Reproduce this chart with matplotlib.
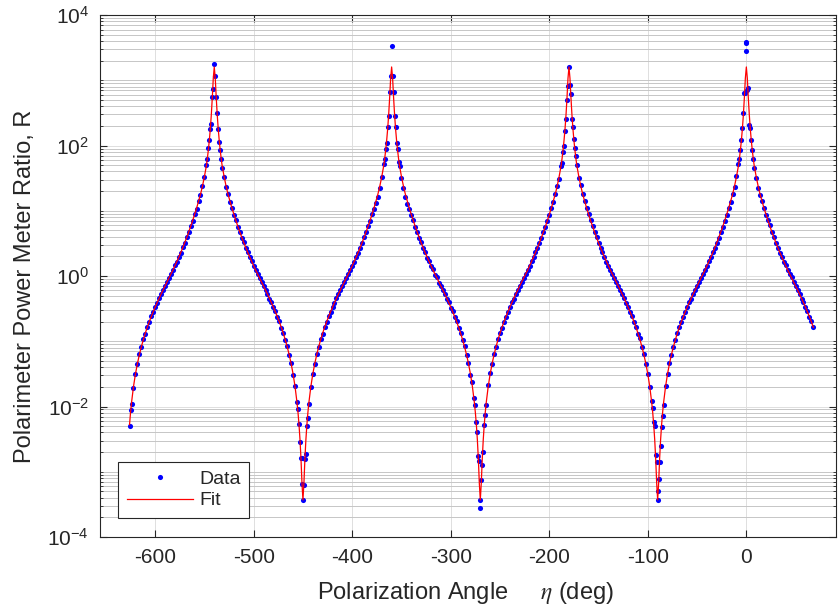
import numpy as np
import matplotlib
matplotlib.use("Agg")
import matplotlib.pyplot as plt
from matplotlib.ticker import FixedLocator, LogLocator, LogFormatterSciNotation, NullFormatter

plt.rcParams.update({
    'font.family': ['Liberation Sans', 'DejaVu Sans'],
    'mathtext.fontset': 'stix',
    'axes.unicode_minus': False,
    'text.color': '#262626',
    'axes.labelcolor': '#262626',
    'xtick.color': '#262626',
    'ytick.color': '#262626',
})

# polarizer angle eta (deg), one list per half-period
angle_1 = [-626, -625, -624, -622, -620, -618, -616, -614, -612, -610, -608, -606,
           -604, -602, -600, -598, -596, -594, -592, -590, -588, -586, -584, -582,
           -580, -578, -576, -574, -572, -570, -568, -566, -564, -562, -560, -558,
           -556, -554, -552, -550, -548, -547, -546, -545, -544, -543, -542, -541, -540]
angle_2 = [-539, -538, -537, -536, -535, -534, -533, -532, -530, -528, -526, -524,
           -522, -520, -518, -516, -514, -512, -510, -508, -506, -504, -502, -500,
           -498, -496, -494, -492, -490, -488, -486, -484, -482, -480, -478, -476,
           -474, -472, -470, -468, -466, -464, -462, -460, -458, -456, -455, -454,
           -453, -452, -451, -450]
angle_3 = [-449, -448, -447, -446, -445, -444, -442, -440, -438, -436, -434, -432,
           -430, -428, -426, -424, -422, -420, -418, -416, -414, -412, -410, -408,
           -406, -404, -402, -400, -398, -396, -394, -392, -390, -388, -386, -384,
           -382, -380, -378, -376, -374, -372, -370, -368, -367, -366, -365, -364,
           -363, -362, -361, -360]
angle_4 = [-359, -358, -357, -356, -355, -354, -353, -352, -350, -348, -346, -344,
           -342, -340, -338, -336, -334, -332, -330, -328, -326, -324, -322, -320,
           -318, -316, -314, -312, -310, -308, -306, -304, -302, -300, -298, -296,
           -294, -292, -290, -288, -286, -284, -282, -280, -278, -276, -275, -274,
           -273, -272, -271, -270]
angle_5 = [-269, -268, -267, -266, -265, -264, -262, -260, -258, -256, -254, -252,
           -250, -248, -246, -244, -242, -240, -238, -236, -234, -232, -230, -228,
           -226, -224, -222, -220, -218, -216, -214, -212, -210, -208, -206, -204,
           -202, -200, -198, -196, -194, -192, -190, -188, -187, -186, -185, -184,
           -183, -182, -181, -180]
angle_6 = [-179, -178, -177, -176, -175, -174, -173, -172, -170, -168, -166, -164,
           -162, -160, -158, -156, -154, -152, -150, -148, -146, -144, -142, -140,
           -138, -136, -134, -132, -130, -128, -126, -124, -122, -120, -118, -116,
           -114, -112, -110, -108, -106, -104, -102, -100, -98, -96, -95, -94,
           -93, -92, -91, -90]
angle_7 = [-89, -88, -87, -86, -85, -84, -82, -80, -78, -76, -74, -72,
           -70, -68, -66, -64, -62, -60, -58, -56, -54, -52, -50, -48,
           -46, -44, -42, -40, -38, -36, -34, -32, -30, -28, -26, -24,
           -22, -20, -18, -16, -14, -12, -10, -8, -7, -6, -5, -4,
           -3, -2, -1, 0]
angle_8 = [1, 2, 3, 4, 5, 6, 7, 8, 10, 12, 14, 16, 18, 20, 22, 24, 26, 28, 30,
           32, 34, 36, 38, 40, 42, 44, 46, 48, 50, 52, 54, 56, 58, 60, 62, 64, 66, 68]

# measured power meter ratio R
data_1 = [0.0050, 0.0087, 0.0108, 0.0195, 0.0310, 0.0448, 0.0640, 0.0815, 0.108, 0.131,
          0.166, 0.196, 0.241, 0.280, 0.338, 0.386, 0.460, 0.522, 0.617, 0.696,
          0.820, 0.925, 1.08, 1.22, 1.45, 1.65, 1.97, 2.27, 2.74, 3.20,
          3.92, 4.65, 5.80, 6.95, 8.80, 10.8, 14.1, 17.6, 24.2, 33.0,
          50, 62, 91, 120, 180, 215, 560, 740, 1800]
data_2 = [1170, 550, 316, 180, 112, 84, 62, 46,
          32.5, 23.2, 18.1, 13.6, 11.1, 8.6, 7.1, 5.65, 4.75, 3.84,
          3.27, 2.68, 2.32, 1.93, 1.69, 1.41, 1.25, 1.06, 0.945, 0.80,
          0.712, 0.603, 0.534, 0.449, 0.396, 0.330, 0.287, 0.235, 0.202, 0.161,
          0.135, 0.104, 0.0838, 0.0615, 0.0462, 0.0309, 0.0205, 0.0117,
          0.0090, 0.0054, 0.0029, 0.0016, 0.00066, 0.00037]
data_3 = [0.00062, 0.00155, 0.0019, 0.0051, 0.0066,
          0.0110, 0.0197, 0.0320, 0.0448, 0.0633, 0.0818, 0.108, 0.131, 0.166, 0.197,
          0.241, 0.280, 0.337, 0.388, 0.459, 0.524, 0.615, 0.700, 0.817, 0.927,
          1.08, 1.22, 1.44, 1.66, 1.97, 2.27, 2.73, 3.21, 3.91, 4.66,
          5.78, 6.97, 8.78, 10.8, 13.2, 16.4, 22.5, 33, 52,
          62, 87, 110, 190, 280, 650, 1150, 3400]
data_4 = [1150, 650, 280, 190, 110, 87, 56, 49,
          32, 22, 16.5, 12.6, 10.6, 8.5, 7.15, 5.6, 4.78, 3.82,
          3.28, 2.66, 2.33, 1.92, 1.70, 1.40, 1.26, 1.05, 0.950, 0.795,
          0.715, 0.600, 0.536, 0.447, 0.398, 0.328, 0.288, 0.234, 0.203, 0.160,
          0.136, 0.103, 0.0845, 0.0612, 0.0468, 0.0305, 0.024, 0.0135,
          0.0105, 0.0058, 0.0041, 0.00175, 0.00145, 0.00028]
data_5 = [0.00075, 0.00125, 0.0020, 0.0052, 0.0075,
          0.0105, 0.021, 0.0322, 0.0450, 0.0630, 0.0820, 0.107, 0.134, 0.162, 0.200,
          0.236, 0.285, 0.331, 0.394, 0.452, 0.531, 0.606, 0.708, 0.806, 0.938,
          1.06, 1.24, 1.42, 1.68, 1.94, 2.30, 2.70, 3.25, 3.86, 4.72,
          5.70, 7.06, 8.65, 11.0, 13.8, 17.9, 23.6, 31, 48,
          54, 79, 100, 166, 257, 500, 830, 1620]
data_6 = [850, 610, 252, 190, 125, 93, 70, 50,
          32, 24.5, 18.2, 14.2, 11.2, 8.9, 7.2, 5.85, 4.76, 3.92,
          3.26, 2.73, 2.31, 1.96, 1.66, 1.42, 1.22, 1.06, 0.928, 0.815,
          0.700, 0.612, 0.525, 0.458, 0.389, 0.336, 0.281, 0.240, 0.197, 0.165,
          0.131, 0.112, 0.0815, 0.0632, 0.0451, 0.0318, 0.0198, 0.0120,
          0.0095, 0.0058, 0.0050, 0.0018, 0.0014, 0.00051]
data_7 = [0.00078, 0.0014, 0.0025, 0.0049, 0.0072,
          0.0107, 0.0204, 0.0312, 0.0458, 0.0620, 0.0830, 0.105, 0.134, 0.163, 0.200,
          0.237, 0.285, 0.332, 0.393, 0.452, 0.530, 0.607, 0.708, 0.808, 0.935,
          1.07, 1.24, 1.42, 1.68, 1.94, 2.30, 2.70, 3.25, 3.86, 4.72,
          5.70, 7.06, 8.70, 10.9, 13.7, 17.9, 23.5, 34, 52,
          62, 86, 122, 186, 310, 630, 640, 2840]
data_8 = [700, 760, 210, 186, 120, 84, 62, 46,
          32, 22.5, 17.6, 14.0, 11.0, 8.65, 7.1, 6.0, 4.75, 3.90,
          3.22, 2.72, 2.27, 1.97, 1.66, 1.45, 1.24, 1.08, 0.95, 0.805,
          0.71, 0.605, 0.532, 0.450, 0.395, 0.330, 0.287, 0.235, 0.201, 0.166]

# repeated readings that sit on top of others
extra_angle = [-451, -270, -90, 0, 0]
extra_data = [0.0016, 0.00037, 0.00037, 3900, 3680]

# fitted R at the same angles
fit_1 = [0.00526, 0.00802, 0.0114, 0.0201, 0.0315, 0.0455, 0.0625, 0.0826, 0.106, 0.133,
         0.164, 0.199, 0.238, 0.283, 0.334, 0.391, 0.455, 0.528, 0.610, 0.704,
         0.811, 0.932, 1.07, 1.23, 1.43, 1.67, 1.95, 2.29, 2.71, 3.23,
         3.88, 4.69, 5.73, 7.02, 8.71, 10.9, 13.9, 17.8, 23.8, 33.4,
         49.1, 63.7, 85.7, 121, 181, 297, 542, 1076, 1600]
fit_down = [1076, 542, 297, 181, 121, 85.7, 63.7, 49.1,
            33.4, 23.8, 17.8, 13.9, 10.9, 8.71, 7.02, 5.73, 4.69, 3.88,
            3.23, 2.71, 2.29, 1.95, 1.67, 1.43, 1.23, 1.07, 0.932, 0.811,
            0.704, 0.610, 0.528, 0.455, 0.391, 0.334, 0.283, 0.238, 0.199, 0.164,
            0.133, 0.106, 0.0826, 0.0625, 0.0455, 0.0315, 0.0201, 0.0114,
            0.00802, 0.00526, 0.00312, 0.00159, 0.000674, 0.00037]
fit_up = [0.000674, 0.00159, 0.00312, 0.00526, 0.00802,
          0.0114, 0.0201, 0.0315, 0.0455, 0.0625, 0.0826, 0.106, 0.133, 0.164, 0.199,
          0.238, 0.283, 0.334, 0.391, 0.455, 0.528, 0.610, 0.704, 0.811, 0.932,
          1.07, 1.23, 1.43, 1.67, 1.95, 2.29, 2.71, 3.23, 3.88, 4.69,
          5.73, 7.02, 8.71, 10.9, 13.9, 17.8, 23.8, 33.4, 49.1,
          63.7, 85.7, 121, 181, 297, 542, 1076, 1600]
fit_8 = [1076, 542, 297, 181, 121, 85.7, 63.7, 49.1,
         33.4, 23.8, 17.8, 13.9, 10.9, 8.71, 7.02, 5.73, 4.69, 3.88,
         3.23, 2.71, 2.29, 1.95, 1.67, 1.43, 1.23, 1.07, 0.932, 0.811,
         0.704, 0.610, 0.528, 0.455, 0.391, 0.334, 0.283, 0.238, 0.199, 0.164]

angle = np.array(angle_1 + angle_2 + angle_3 + angle_4 + angle_5 + angle_6 + angle_7 + angle_8)
ratio = np.array(data_1 + data_2 + data_3 + data_4 + data_5 + data_6 + data_7 + data_8)
ratio_fit = np.array(fit_1 + fit_down + fit_up + fit_down + fit_up + fit_down + fit_up + fit_8)

fig = plt.figure(figsize=(8.38, 6.11), dpi=100)
ax = fig.add_axes([0.1193, 0.1211, 0.8789, 0.8543])

ax.plot(np.r_[angle, extra_angle], np.r_[ratio, extra_data], 'o', color='#0000ff',
        ms=3.7, mec='none', label='Data')
ax.plot(angle, ratio_fit, '-', color='#ff0000', lw=0.9, label='Fit')

ax.set_yscale('log')
ax.set_ylim(1e-4, 1e4)
ax.set_xlim(-656, 91.5)
ax.set_xticks([-600, -500, -400, -300, -200, -100, 0])
ax.yaxis.set_major_locator(FixedLocator([1e-4, 1e-2, 1e0, 1e2, 1e4]))
ax.yaxis.set_major_formatter(LogFormatterSciNotation())
ax.yaxis.set_minor_locator(LogLocator(base=10, subs=np.arange(1, 10), numticks=40))
ax.yaxis.set_minor_formatter(NullFormatter())

ax.set_axisbelow(True)
ax.grid(True, which='major', color='#dedede', lw=0.7)
ax.yaxis.grid(True, which='minor', color='#c6c6c6', lw=0.7)

ax.tick_params(which='both', direction='in', top=True, right=True, labelsize=15, pad=8)
ax.tick_params(which='major', length=5, width=0.8)
ax.tick_params(which='minor', length=2.5, width=0.6)
for s in ax.spines.values():
    s.set_color('#262626')
    s.set_linewidth(0.8)

ax.set_xlabel(r'Polarization Angle     $\eta$ (deg)', fontsize=17)
ax.set_ylabel('Polarimeter Power Meter Ratio, R', fontsize=17)
ax.xaxis.set_label_coords(0.496, -0.082)
ax.yaxis.set_label_coords(-0.087, 0.48)

leg = ax.legend(loc='lower left', bbox_to_anchor=(0.025, 0.036), borderaxespad=0,
                fontsize=14, fancybox=False, edgecolor='#262626', framealpha=1,
                handlelength=3.4, handletextpad=0.3, borderpad=0.45, labelspacing=0.2,
                numpoints=1)
leg.get_frame().set_linewidth(0.8)
# widen the frame a little towards the right, as in the original
fr = leg.get_frame()

fig.canvas.draw()
bb = fr.get_bbox()
fr.set_width(bb.width + 8)

fig.savefig('out.png', dpi=100)
